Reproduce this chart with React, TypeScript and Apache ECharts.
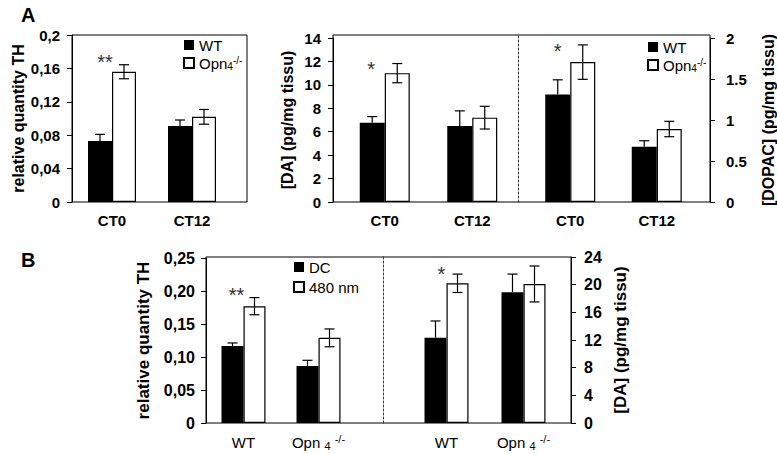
import React, { useEffect, useRef } from 'react';
import * as echarts from 'echarts';

const FONT = '"Liberation Sans", Arial, Helvetica, sans-serif';

// ---------- Panel A, left: relative quantity TH ----------
const thCats = ['CT0', 'CT12'];
const thWT = [0.073, 0.091];
const thWTErr = [0.008, 0.0072];
const thOpn = [0.156, 0.102];
const thOpnErr = [0.0084, 0.0088];
const thStars = ['**', ''];
const thTicks = ['0', '0,04', '0,08', '0,12', '0,16', '0,2'];

// ---------- Panel A, right: DA and DOPAC ----------
const daCats = ['CT0', 'CT12'];
const daWT = [6.77, 6.49];
const daWTErr = [0.52, 1.29];
const daOpn = [11.0, 7.2];
const daOpnErr = [0.82, 0.97];
const daStars = ['*', ''];
const daTicks = ['0', '2', '4', '6', '8', '10', '12', '14'];

const dopacCats = ['CT0', 'CT12'];
const dopacWT = [1.31, 0.674];
const dopacWTErr = [0.18, 0.073];
const dopacOpn = [1.706, 0.89];
const dopacOpnErr = [0.21, 0.094];
const dopacStars = ['*', ''];
const dopacTicks = ['0', '0.5', '1', '1.5', '2'];

// ---------- Panel B ----------
const bCats = ['WT', 'Opn'];
const bThDC = [0.1167, 0.0863];
const bThDCErr = [0.0046, 0.0087];
const bTh480 = [0.177, 0.129];
const bTh480Err = [0.013, 0.0135];
const bThStars = ['**', ''];
const bThTicks = ['0', '0,05', '0,10', '0,15', '0,20', '0,25'];

const bDaDC = [12.32, 18.92];
const bDaDCErr = [2.43, 2.61];
const bDa480 = [20.2, 20.1];
const bDa480Err = [1.33, 2.6];
const bDaStars = ['*', ''];
const bDaTicks = ['0', '4', '8', '12', '16', '20', '24'];

const errData = (a: number[], ae: number[], b: number[], be: number[]) =>
  a.map((v, i) => [i, v, ae[i], b[i], be[i]]);

function errRender(barW: number, stars: string[], dx: number, dy: number) {
  return (params: any, api: any) => {
    const i = api.value(0);
    const c = api.coord([i, 0]);
    const xW = c[0] - barW / 2;
    const xO = c[0] + barW / 2;
    const wv = api.value(1), we = api.value(2), ov = api.value(3), oe = api.value(4);
    const yWTop = api.coord([i, wv])[1];
    const yWHi = api.coord([i, wv + we])[1];
    const yOHi = api.coord([i, ov + oe])[1];
    const yOLo = api.coord([i, ov - oe])[1];
    const cap = 5;
    const ls = { stroke: '#000', lineWidth: 1.2 };
    const children: any[] = [
      { type: 'line', shape: { x1: xW, y1: yWTop, x2: xW, y2: yWHi }, style: ls },
      { type: 'line', shape: { x1: xW - cap, y1: yWHi, x2: xW + cap, y2: yWHi }, style: ls },
      { type: 'line', shape: { x1: xO, y1: yOLo, x2: xO, y2: yOHi }, style: ls },
      { type: 'line', shape: { x1: xO - cap, y1: yOHi, x2: xO + cap, y2: yOHi }, style: ls },
      { type: 'line', shape: { x1: xO - cap, y1: yOLo, x2: xO + cap, y2: yOLo }, style: ls },
    ];
    const s = stars[i];
    if (s) {
      children.push({
        type: 'text',
        x: xW + dx,
        y: yOHi + dy,
        style: { text: s, fontSize: 20, fill: '#333', align: 'center', verticalAlign: 'middle', fontFamily: FONT },
      });
    }
    return { type: 'group', children };
  };
}

const richSubSup = {
  sub: { fontSize: 10, lineHeight: 10, verticalAlign: 'bottom', fontFamily: FONT, color: '#000' },
  sup: { fontSize: 10, lineHeight: 10, verticalAlign: 'top', fontFamily: FONT, color: '#000' },
};

const hidden = (gi: number) => ({ gridIndex: gi, type: 'value', show: false, min: 0, max: 1 });

function yVal(gi: number, max: number, interval: number, ticks: string[], opts: any) {
  return {
    gridIndex: gi,
    type: 'value',
    min: 0,
    max,
    interval,
    position: opts.position || 'left',
    offset: opts.offset || 0,
    axisLine: { show: true, lineStyle: { color: '#000', width: 1 } },
    axisTick: { show: true, length: 5, lineStyle: { color: '#000', width: 1 } },
    splitLine: { show: false },
    axisLabel: {
      fontSize: opts.labelSize,
      fontWeight: 'bold',
      color: '#000',
      fontFamily: FONT,
      margin: opts.margin,
      formatter: (v: number) => ticks[Math.round(v / interval)] ?? '',
    },
    name: opts.name,
    nameLocation: 'middle',
    nameGap: opts.nameGap,
    nameTextStyle: { fontSize: opts.nameSize, fontWeight: 'bold', color: '#000', fontFamily: FONT },
  };
}

function xCat(gi: number, cats: string[], bold: boolean, size: number, margin: number) {
  return {
    gridIndex: gi,
    type: 'category',
    data: cats,
    axisLine: { show: false },
    axisTick: { show: false },
    axisLabel: {
      interval: 0,
      hideOverlap: false,
      fontSize: size,
      fontWeight: bold ? 'bold' : 'normal',
      color: '#000',
      fontFamily: FONT,
      margin,
      lineHeight: 18,
      formatter: (v: string) => (v === 'Opn' ? 'Opn {sub|4} {sup|-/-}' : v),
      rich: {
        sub: { fontSize: 11, lineHeight: 11, verticalAlign: 'bottom', fontFamily: FONT, color: '#000' },
        sup: { fontSize: 11, lineHeight: 11, verticalAlign: 'top', fontFamily: FONT, color: '#000' },
      },
    },
  };
}

const wtStyle = { color: '#000' };
const opnStyle = { color: '#fff', borderColor: '#000', borderWidth: 1.2 };

function barPair(nameA: string, nameB: string, xi: number, yi: number, a: number[], b: number[], w: number) {
  return [
    { name: nameA, type: 'bar', xAxisIndex: xi, yAxisIndex: yi, data: a, barWidth: w, barGap: '0%', itemStyle: wtStyle },
    { name: nameB, type: 'bar', xAxisIndex: xi, yAxisIndex: yi, data: b, barWidth: w, barGap: '0%', itemStyle: opnStyle },
  ];
}

function errSeries(xi: number, yi: number, data: number[][], render: any) {
  return {
    type: 'custom',
    name: 'err',
    xAxisIndex: xi,
    yAxisIndex: yi,
    data,
    encode: { x: 0, y: [1, 3] },
    renderItem: render,
    z: 5,
    silent: true,
  };
}

function legend(left: number, top: number, names: string[], gap: number) {
  return {
    left,
    top,
    orient: 'vertical',
    padding: 0,
    itemWidth: 10,
    itemHeight: 10,
    itemGap: gap,
    selectedMode: false,
    icon: 'rect',
    data: names,
    formatter: (n: string) => (n === 'Opn' ? 'Opn{sub|4}{sup|-/-}' : n),
    textStyle: { fontSize: 15, color: '#000', fontFamily: FONT, lineHeight: 16, rich: richSubSup },
  };
}

export default function App() {
  const ref = useRef<HTMLDivElement>(null);
  useEffect(() => {
    document.body.style.margin = '0';
    if (!ref.current) return;
    const chart = echarts.init(ref.current, null, { renderer: 'svg' });
    const frame = { show: true, borderColor: '#000', borderWidth: 1, backgroundColor: 'transparent' };
    const option: any = {
      animation: false,
      backgroundColor: '#fff',
      textStyle: { fontFamily: FONT },
      grid: [
        { left: 72, top: 35, width: 175, height: 167, ...frame }, // 0 frame A-left
        { left: 72, top: 35, width: 160, height: 167 }, // 1 TH
        { left: 333, top: 35, width: 377, height: 167, ...frame }, // 2 frame A-right
        { left: 341, top: 38, width: 175, height: 164 }, // 3 DA
        { left: 527, top: 38, width: 173, height: 164 }, // 4 DOPAC
        { left: 518, top: 35, width: 1, height: 167 }, // 5 divider A
        { left: 206, top: 257, width: 365, height: 166, ...frame }, // 6 frame B
        { left: 206, top: 258, width: 150, height: 165 }, // 7 B TH
        { left: 408, top: 257, width: 154, height: 166 }, // 8 B DA
        { left: 383, top: 257, width: 1, height: 166 }, // 9 divider B
      ],
      xAxis: [
        hidden(0),
        xCat(1, thCats, true, 15, 9),
        hidden(2),
        xCat(3, daCats, true, 15, 9),
        xCat(4, dopacCats, true, 15, 9),
        hidden(5),
        hidden(6),
        xCat(7, bCats, false, 15, 10),
        xCat(8, bCats, false, 15, 10),
        hidden(9),
      ],
      yAxis: [
        hidden(0),
        yVal(1, 0.2, 0.04, thTicks, { labelSize: 15, margin: 12, name: 'relative quantity TH', nameGap: 46, nameSize: 16 }),
        hidden(2),
        yVal(3, 14, 2, daTicks, { labelSize: 15, margin: 12, offset: 8, name: '[DA] (pg/mg tissu)', nameGap: 38, nameSize: 16 }),
        yVal(4, 2, 0.5, dopacTicks, { labelSize: 15, margin: 16, position: 'right', offset: 10, name: '[DOPAC] (pg/mg tissu)', nameGap: 50, nameSize: 16 }),
        {
          gridIndex: 5, type: 'value', min: 0, max: 1, position: 'left',
          axisLine: { show: true, lineStyle: { color: '#333', width: 1, type: [2, 2] } },
          axisTick: { show: false }, axisLabel: { show: false }, splitLine: { show: false },
        },
        hidden(6),
        yVal(7, 0.25, 0.05, bThTicks, { labelSize: 16, margin: 11, name: 'relative quantity TH', nameGap: 54, nameSize: 17 }),
        yVal(8, 24, 4, bDaTicks, { labelSize: 16, margin: 13, position: 'right', offset: 9, name: '[DA] (pg/mg tissu)', nameGap: 41, nameSize: 17 }),
        {
          gridIndex: 9, type: 'value', min: 0, max: 1, position: 'left',
          axisLine: { show: true, lineStyle: { color: '#333', width: 1, type: [2, 2] } },
          axisTick: { show: false }, axisLabel: { show: false }, splitLine: { show: false },
        },
      ],
      legend: [
        legend(183, 37, ['WT', 'Opn'], 2),
        legend(647, 39, ['WT', 'Opn'], 2),
        legend(293, 259, ['DC', '480 nm'], 4),
      ],
      series: [
        ...barPair('WT', 'Opn', 1, 1, thWT, thOpn, 24),
        errSeries(1, 1, errData(thWT, thWTErr, thOpn, thOpnErr), errRender(24, thStars, 5, -3)),
        ...barPair('WT', 'Opn', 3, 3, daWT, daOpn, 25),
        errSeries(3, 3, errData(daWT, daWTErr, daOpn, daOpnErr), errRender(25, daStars, -1, 5)),
        ...barPair('WT', 'Opn', 4, 4, dopacWT, dopacOpn, 25),
        errSeries(4, 4, errData(dopacWT, dopacWTErr, dopacOpn, dopacOpnErr), errRender(25, dopacStars, 0, 6)),
        ...barPair('DC', '480 nm', 7, 7, bThDC, bTh480, 22),
        errSeries(7, 7, errData(bThDC, bThDCErr, bTh480, bTh480Err), errRender(22, bThStars, 4, -3)),
        ...barPair('DC', '480 nm', 8, 8, bDaDC, bDa480, 22),
        errSeries(8, 8, errData(bDaDC, bDaDCErr, bDa480, bDa480Err), errRender(22, bDaStars, 6, 0)),
      ],
      graphic: [
        { type: 'text', left: 21, top: 5, style: { text: 'A', fontSize: 20, fontWeight: 'bold', fill: '#000', fontFamily: FONT } },
        { type: 'text', left: 21, top: 250, style: { text: 'B', fontSize: 20, fontWeight: 'bold', fill: '#000', fontFamily: FONT } },
      ],
    };
    chart.setOption(option);
    return () => chart.dispose();
  }, []);
  return (
    <div
      ref={ref}
      style={{ width: 777, height: 454, position: 'absolute', left: 0, top: 0, background: '#fff' }}
    />
  );
}
